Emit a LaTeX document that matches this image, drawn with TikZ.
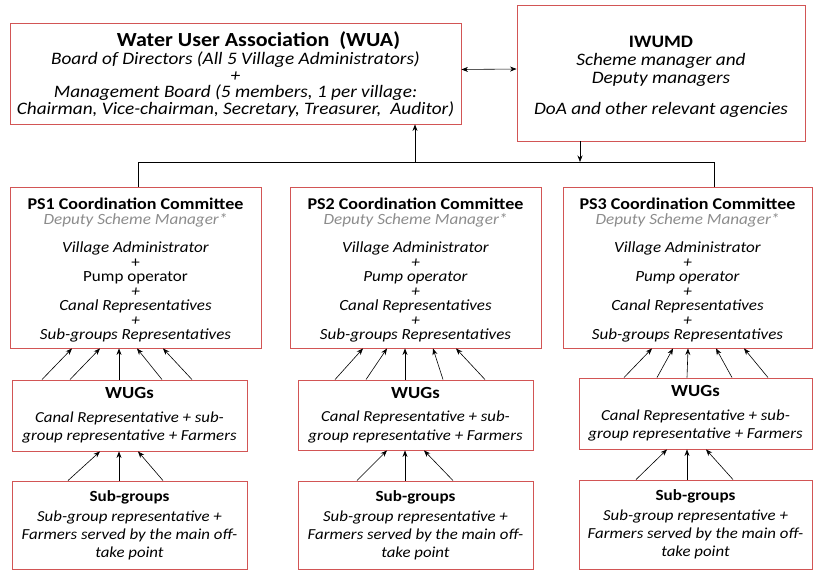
\documentclass[tikz,border=0pt]{standalone}
\usepackage{fontspec}
\setmainfont[FakeStretch=1.1]{Carlito}
\usetikzlibrary{arrows.meta}
\definecolor{boxred}{RGB}{210,85,85}
\definecolor{deputygray}{RGB}{140,140,140}
\lineskiplimit=-30pt

\begin{document}
\begin{tikzpicture}[x=1pt,y=-1pt,
		orgbox/.style={draw=boxred, line width=0.9pt, rectangle, align=center, inner sep=0pt},
		uparr/.style={-{Stealth[length=6.5pt,width=5pt]}, line width=0.6pt},
		bothar/.style={{Stealth[length=6.5pt,width=5pt]}-{Stealth[length=6.5pt,width=5pt]}, line width=0.6pt}]
		%%%%% START %%%%%
		
		\useasboundingbox (0,0) rectangle (813,570);
		
		% top level
		\node[orgbox, minimum width=451pt, minimum height=101pt, font=\fontsize{17.5}{16.8}\selectfont] (wua) at (235.5, 73.5)
		{{\fontsize{20}{17}\selectfont\rule{0pt}{17pt}\hspace*{46pt}\textbf{Water User Association\ \ (WUA)}}\\[1pt]
			\textit{Board of Directors (All 5 Village Administrators)}\\
			\textit{+}\\
			\textit{Management Board (5 members, 1 per village:}\\
			\textit{Chairman, Vice-chairman, Secretary, Treasurer,\ \ Auditor)}};
		\node[orgbox, minimum width=288pt, minimum height=136pt, font=\fontsize{17.5}{17.5}\selectfont] (iwumd) at (661, 73)
		{\rule{0pt}{19pt}\textbf{IWUMD}\\[1pt]
			\textit{Scheme manager and}\\
			\textit{Deputy managers}\\[14pt]
			\textit{DoA and other relevant agencies}};
		
		\draw[bothar] ([yshift=4pt]wua.east) -- ([yshift=4pt]iwumd.west);
		
		% pump station committees
		\node[orgbox, minimum width=251pt, minimum height=161pt, font=\fontsize{15.5}{14.5}\selectfont] (ps1) at (135.5, 267.5)
		{{\fontsize{16.4}{15}\selectfont\rule{0pt}{17pt}\textbf{PS1 Coordination Committee}}\\[0pt]
			{\fontsize{15.6}{15}\selectfont\textcolor{deputygray}{\textit{Deputy Scheme Manager*}}}\\[14pt]
			\textit{Village Administrator}\\
			+\\
			Pump operator\\
			\textit{+}\\
			\textit{Canal Representatives}\\
			\textit{+}\\
			\textit{Sub-groups Representatives}};
		\node[orgbox, minimum width=251pt, minimum height=161pt, font=\fontsize{15.5}{14.5}\selectfont] (ps2) at (415.5, 267.5)
		{{\fontsize{16.4}{15}\selectfont\rule{0pt}{17pt}\textbf{PS2 Coordination Committee}}\\[0pt]
			{\fontsize{15.6}{15}\selectfont\textcolor{deputygray}{\textit{Deputy Scheme Manager*}}}\\[14pt]
			\textit{Village Administrator}\\
			\textit{+}\\
			\textit{Pump operator}\\
			\textit{+}\\
			\textit{Canal Representatives}\\
			\textit{+}\\
			\textit{Sub-groups Representatives}};
		\node[orgbox, minimum width=249pt, minimum height=161pt, font=\fontsize{15.5}{14.5}\selectfont] (ps3) at (687.5, 267.5)
		{{\fontsize{16.4}{15}\selectfont\rule{0pt}{17pt}\textbf{PS3 Coordination Committee}}\\[0pt]
			{\fontsize{15.6}{15}\selectfont\textcolor{deputygray}{\textit{Deputy Scheme Manager*}}}\\[14pt]
			\textit{Village Administrator}\\
			\textit{+}\\
			\textit{Pump operator}\\
			\textit{+}\\
			\textit{Canal Representatives}\\
			\textit{+}\\
			\textit{Sub-groups Representatives}};
		
		% bus between top level and committees
		\coordinate (busL) at (138, 162);
		\coordinate (busR) at (714, 162);
		\coordinate (busW) at (415, 162);
		\coordinate (busI) at (580, 162);
		\draw[line width=0.6pt] (ps1.north -| busL) -- (busL) -- (busR) -- (ps3.north -| busR);
		\draw[uparr] (busW) -- (wua.south -| busW);
		\draw[uparr] (iwumd.south -| busI) -- (busI);
		
		% water user groups
		\node[orgbox, minimum width=235pt, minimum height=71pt, font=\fontsize{15.3}{18.5}\selectfont] (wug1) at (129.5, 415.5)
		{{\fontsize{17}{18}\selectfont\textbf{WUGs}}\\[5pt]
			\textit{Canal Representative + sub-}\\
			\textit{group representative + Farmers}};
		\node[orgbox, minimum width=235pt, minimum height=70pt, font=\fontsize{15.3}{18.5}\selectfont] (wug2) at (415.5, 415)
		{{\fontsize{17}{18}\selectfont\textbf{WUGs}}\\[5pt]
			\textit{Canal Representative + sub-}\\
			\textit{group representative + Farmers}};
		\node[orgbox, minimum width=233pt, minimum height=71pt, font=\fontsize{15.3}{18.5}\selectfont] (wug3) at (695.5, 413.5)
		{{\fontsize{17}{18}\selectfont\textbf{WUGs}}\\[5pt]
			\textit{Canal Representative + sub-}\\
			\textit{group representative + Farmers}};
		
		\draw[uparr] ([xshift=-87.5pt]wug1.north) -- ([xshift=-63.5pt]ps1.south);
		\draw[uparr] ([xshift=-59.5pt]wug1.north) -- ([xshift=-35.5pt]ps1.south);
		\draw[uparr] ([xshift=-10.5pt]wug1.north) -- ([xshift=-16.5pt]ps1.south);
		\draw[uparr] ([xshift=32.5pt]wug1.north) -- ([xshift=1.5pt]ps1.south);
		\draw[uparr] ([xshift=62.5pt]wug1.north) -- ([xshift=27.5pt]ps1.south);
		
		\draw[uparr] ([xshift=-80.5pt]wug2.north) -- ([xshift=-52.5pt]ps2.south);
		\draw[uparr] ([xshift=-49.5pt]wug2.north) -- ([xshift=-28.5pt]ps2.south);
		\draw[uparr] ([xshift=-10.5pt]wug2.north) -- ([xshift=-10.5pt]ps2.south);
		\draw[uparr] ([xshift=27.5pt]wug2.north) -- ([xshift=17.5pt]ps2.south);
		\draw[uparr] ([xshift=69.5pt]wug2.north) -- ([xshift=40.5pt]ps2.south);
		
		\draw[uparr] ([xshift=-71.5pt]wug3.north) -- ([xshift=-35.5pt]ps3.south);
		\draw[uparr] ([xshift=-38.5pt]wug3.north) -- ([xshift=-14.5pt]ps3.south);
		\draw[uparr] ([xshift=-8.5pt]wug3.north) -- ([xshift=0.5pt]ps3.south);
		\draw[uparr] ([xshift=36.5pt]wug3.north) -- ([xshift=28.5pt]ps3.south);
		\draw[uparr] ([xshift=72.5pt]wug3.north) -- ([xshift=56.5pt]ps3.south);
		
		% sub-groups
		\node[orgbox, minimum width=235pt, minimum height=88pt, font=\fontsize{15.3}{18}\selectfont] (sub1) at (129.5, 525)
		{{\fontsize{15.5}{18}\selectfont\textbf{Sub-groups}}\\[2pt]
			\textit{Sub-group representative +}\\
			\textit{Farmers served by the main off-}\\
			\textit{take point}};
		\node[orgbox, minimum width=235pt, minimum height=88pt, font=\fontsize{15.3}{18}\selectfont] (sub2) at (415.5, 525)
		{{\fontsize{15.5}{18}\selectfont\textbf{Sub-groups}}\\[2pt]
			\textit{Sub-group representative +}\\
			\textit{Farmers served by the main off-}\\
			\textit{take point}};
		\node[orgbox, minimum width=233pt, minimum height=89pt, font=\fontsize{15.3}{18}\selectfont] (sub3) at (695.5, 524.5)
		{{\fontsize{15.5}{18}\selectfont\textbf{Sub-groups}}\\[2pt]
			\textit{Sub-group representative +}\\
			\textit{Farmers served by the main off-}\\
			\textit{take point}};
		
		\draw[uparr] ([xshift=-61.5pt]sub1.north) -- ([xshift=-29.5pt]wug1.south);
		\draw[uparr] ([xshift=-10.5pt]sub1.north) -- ([xshift=-10.5pt]wug1.south);
		\draw[uparr] ([xshift=33.5pt]sub1.north) -- ([xshift=8.5pt]wug1.south);
		
		\draw[uparr] ([xshift=-58.5pt]sub2.north) -- ([xshift=-28.5pt]wug2.south);
		\draw[uparr] ([xshift=-10.5pt]sub2.north) -- ([xshift=-10.5pt]wug2.south);
		\draw[uparr] ([xshift=37.5pt]sub2.north) -- ([xshift=8.5pt]wug2.south);
		
		\draw[uparr] ([xshift=-59.5pt]sub3.north) -- ([xshift=-28.5pt]wug3.south);
		\draw[uparr] ([xshift=-8.5pt]sub3.north) -- ([xshift=-8.5pt]wug3.south);
		\draw[uparr] ([xshift=37.5pt]sub3.north) -- ([xshift=10.5pt]wug3.south);
		
		%%%%% END %%%%%
\end{tikzpicture}
\end{document}
